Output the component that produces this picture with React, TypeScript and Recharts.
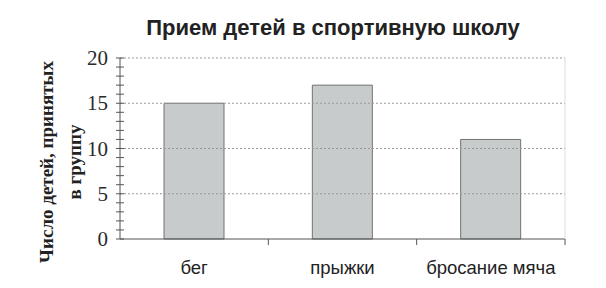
import React from 'react';
import { BarChart, Bar, XAxis, YAxis, ReferenceLine } from 'recharts';

const categories = ['бег', 'прыжки', 'бросание мяча'];
const accepted = [15, 17, 11];
const yTicks = [0, 1, 2, 3, 4, 5, 6, 7, 8, 9, 10, 11, 12, 13, 14, 15, 16, 17, 18, 19, 20];
const gridValues = [5, 10, 15, 20];

const title = 'Прием детей в спортивную школу';
const yLabelLines = ['Число детей, принятых', 'в группу'];

const W = 606;
const H = 288;
const plotLeft = 120;
const plotRight = 565;
const halfBand = (plotRight - plotLeft) / categories.length / 2;

const data = categories.map((name, i) => ({ name, value: accepted[i] }));

const YTick = (props: any) => {
  const { x, y, payload } = props;
  const v = payload.value;
  const major = v % 5 === 0;
  return (
    <g>
      <line x1={x - 4} x2={x + 4} y1={y} y2={y} stroke="#555" strokeWidth={1} />
      {major && (
        <text
          x={x - 12}
          y={y}
          dy={7}
          textAnchor="end"
          fontFamily="'Liberation Serif', 'Times New Roman', serif"
          fontSize={21}
          fill="#2a2a2a"
        >
          {v}
        </text>
      )}
    </g>
  );
};

const XTick = (props: any) => {
  const { x, y, payload } = props;
  return (
    <g>
      <line x1={x + halfBand} x2={x + halfBand} y1={y} y2={y + 6} stroke="#555" strokeWidth={1} />
      <text
        x={x}
        y={y + 35}
        textAnchor="middle"
        fontFamily="'Liberation Sans', Arial, sans-serif"
        fontSize={18.5}
        fill="#222"
      >
        {payload.value}
      </text>
    </g>
  );
};

export default function App() {
  return (
    <div style={{ position: 'absolute', left: 0, top: 0, width: W, height: H, background: '#fff' }}>
      <BarChart width={W} height={H} data={data} margin={{ top: 58, right: W - plotRight, bottom: 0, left: 0 }}>
        {gridValues.map((v) => (
          <ReferenceLine key={v} y={v} stroke="#999" strokeDasharray="2 2" strokeWidth={1} />
        ))}
        <XAxis
          dataKey="name"
          height={49}
          tickSize={0}
          tickMargin={0}
          tickLine={false}
          axisLine={{ stroke: '#555' }}
          tick={<XTick />}
          interval={0}
        />
        <YAxis
          width={plotLeft}
          domain={[0, 20]}
          ticks={yTicks}
          interval={0}
          tickSize={0}
          tickMargin={0}
          tickLine={false}
          axisLine={{ stroke: '#555' }}
          tick={<YTick />}
        />
        <Bar dataKey="value" fill="#c8cbcc" stroke="#707272" strokeWidth={1} barSize={60} isAnimationActive={false} />
      </BarChart>
      <svg width={W} height={H} style={{ position: 'absolute', left: 0, top: 0, pointerEvents: 'none' }}>
        <line x1={plotRight} x2={plotRight} y1={58} y2={239} stroke="#ddd" strokeWidth={1} />
        <text
          x={333}
          y={35}
          textAnchor="middle"
          fontFamily="'Liberation Sans', Arial, sans-serif"
          fontWeight="bold"
          fontSize={22}
          fill="#222"
        >
          {title}
        </text>
        {yLabelLines.map((line, i) => (
          <text
            key={i}
            transform={`translate(${53 + i * 28}, 162) rotate(-90)`}
            textAnchor="middle"
            fontFamily="'Liberation Serif', 'Times New Roman', serif"
            fontWeight="bold"
            fontSize={19}
            fill="#222"
          >
            {line}
          </text>
        ))}
      </svg>
    </div>
  );
}
